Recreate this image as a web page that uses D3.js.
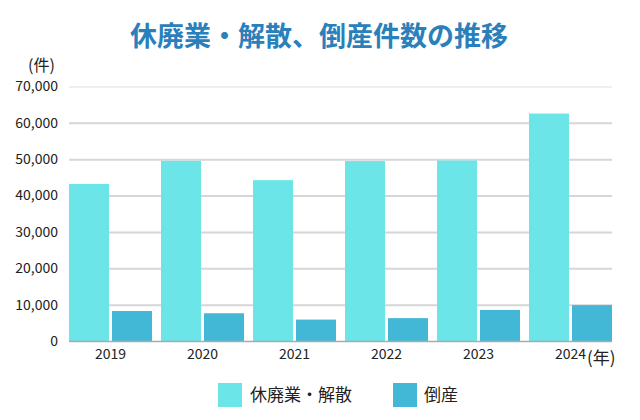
<!DOCTYPE html>
<html><head><meta charset="utf-8">
<script src="https://cdn.jsdelivr.net/npm/d3@7"></script>
<style>
html,body{margin:0;padding:0;background:#fff;}
svg{display:block;font-family:"Noto Sans CJK JP","Noto Sans",sans-serif;}
</style></head>
<body><svg id="c" width="640" height="420"></svg>
<script>
const years = ["2019","2020","2021","2022","2023","2024"];
const seriesNames = ["休廃業・解散","倒産"];
const closures = [43348,49698,44377,49625,49788,62695];
const bankruptcies = [8383,7773,6030,6428,8690,10006];
const yTicks = [0,10000,20000,30000,40000,50000,60000,70000];
const colors = ["#6ce5e8","#42b7d6"];

const svg = d3.select("#c");
const pL = 69, pR = 612, pT = 87, pB = 341.5;

const x0 = d3.scaleBand().domain(years).range([pL, pR]).paddingInner(9/92).paddingOuter(0);
const x1 = d3.scaleBand().domain(seriesNames).range([0, x0.bandwidth()]).paddingInner(0.07);
const y = d3.scaleLinear().domain([0,70000]).range([pB, pT]);

// title
svg.append("text").attr("x",319).attr("y",46).attr("text-anchor","middle")
  .attr("font-size",27).attr("font-weight",700).attr("fill","#2a80bb")
  .text("休廃業・解散、倒産件数の推移");

// gridlines
svg.append("g").selectAll("line").data(yTicks.filter(d=>d>0)).join("line")
  .attr("x1",pL).attr("x2",pR).attr("y1",d=>y(d)).attr("y2",d=>y(d))
  .attr("stroke",d=>d===70000?"#efefef":"#d6d6d6").attr("stroke-width",2);

// y axis
const yAxis = svg.append("g").attr("transform",`translate(${pL},0)`)
  .call(d3.axisLeft(y).tickValues(yTicks).tickFormat(d3.format(",")).tickSize(0).tickPadding(11));
yAxis.select(".domain").remove();
yAxis.selectAll("text").attr("font-size",14).attr("fill","#222").attr("dy","0.28em")
  .attr("font-family","'Noto Sans CJK JP', sans-serif");

svg.append("text").attr("x",28).attr("y",71)
  .attr("font-size",16).attr("fill","#222").text("(件)");

// bars
const data = years.map((yr,i)=>({year:yr, vals:[closures[i], bankruptcies[i]]}));
const g = svg.append("g").selectAll("g").data(data).join("g")
  .attr("transform",d=>`translate(${x0(d.year)},0)`);
g.selectAll("rect").data(d=>d.vals.map((v,j)=>({k:seriesNames[j],v,j}))).join("rect")
  .attr("x",d=>x1(d.k)).attr("width",x1.bandwidth())
  .attr("y",d=>y(d.v)).attr("height",d=>pB-y(d.v))
  .attr("fill",d=>colors[d.j]);

// baseline
svg.append("line").attr("x1",pL).attr("x2",pR).attr("y1",pB).attr("y2",pB)
  .attr("stroke","#aaaaaa").attr("stroke-width",1.5);

// x axis
const xAxis = svg.append("g").attr("transform",`translate(0,${pB})`)
  .call(d3.axisBottom(x0).tickSize(0).tickPadding(0));
xAxis.select(".domain").remove();
xAxis.selectAll("text").attr("font-size",14).attr("fill","#222").attr("dy",null).attr("y",17.5)
  .attr("font-family","'Noto Sans CJK JP', sans-serif");

svg.append("text").attr("x",587).attr("y",364).attr("font-size",17).attr("fill","#222").text("(年)");

// legend
const leg = [{k:seriesNames[0],x:218,tx:250},{k:seriesNames[1],x:393,tx:424}];
const lg = svg.append("g").selectAll("g").data(leg).join("g");
lg.append("rect").attr("x",d=>d.x).attr("y",383).attr("width",24).attr("height",24)
  .attr("fill",(d,i)=>colors[i]);
lg.append("text").attr("x",d=>d.tx).attr("y",401).attr("font-size",17).attr("fill","#222").text(d=>d.k);
</script></body></html>
